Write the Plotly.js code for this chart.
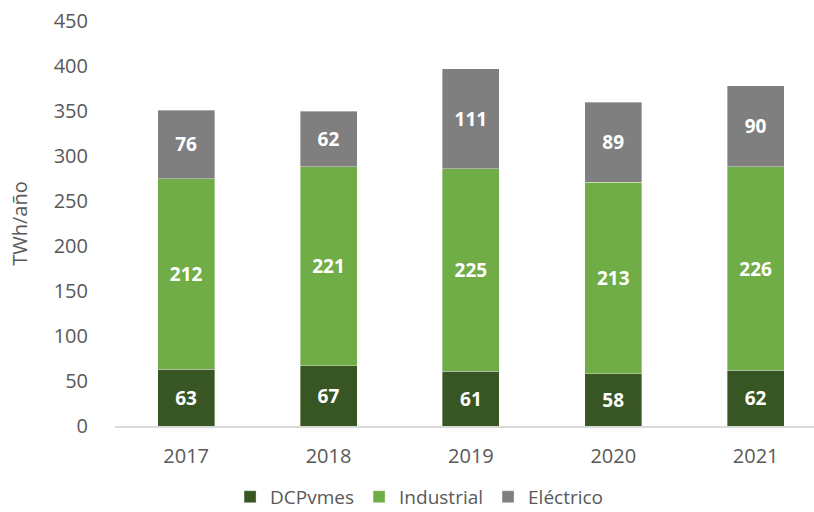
<!DOCTYPE html>
<html>
<head>
<meta charset="utf-8">
<script src="https://cdn.plot.ly/plotly-3.0.1.min.js"></script>
<style>html,body{margin:0;padding:0;background:#fff;}#chart{width:814px;height:512px;}</style>
</head>
<body>
<div id="chart"></div>
<script>
const years = ["2017", "2018", "2019", "2020", "2021"];
const dcpvmes = [63, 67, 61, 58, 62];
const industrial = [212, 221, 225, 213, 226];
const electrico = [76, 62, 111, 89, 90];
const seriesNames = ["DCPvmes", "Industrial", "Eléctrico"];
const colors = ["#375623", "#70AD47", "#7F7F7F"];
const yTicks = [0, 50, 100, 150, 200, 250, 300, 350, 400, 450];

const font = "'Open Sans', 'Noto Sans', sans-serif";
const series = [dcpvmes, industrial, electrico];
const data = series.map((vals, i) => ({
  type: "bar",
  name: seriesNames[i],
  x: years,
  y: vals,
  width: 0.4,
  marker: {color: colors[i], line: {color: "rgba(255,255,255,0.6)", width: 0.6}},
  text: vals.map(String),
  textposition: "inside",
  insidetextanchor: "middle",
  textangle: 0,
  textfont: {family: font, size: 19, color: "#FFFFFF", weight: "bold"},
  hoverinfo: "x+y+name"
}));

const layout = {
  width: 814,
  height: 512,
  barmode: "stack",
  paper_bgcolor: "#FFFFFF",
  plot_bgcolor: "#FFFFFF",
  margin: {l: 115, r: 0, t: 21, b: 86, autoexpand: false},
  font: {family: font, size: 20, color: "#595959"},
  xaxis: {
    type: "category",
    range: [-0.5, 4.41],
    showline: true,
    linecolor: "#D9D9D9",
    linewidth: 1.5,
    showgrid: false,
    zeroline: false,
    ticks: "",
    ticklabelstandoff: 11,
    automargin: false,
    tickfont: {family: font, size: 20, color: "#595959"}
  },
  yaxis: {
    range: [0, 450],
    tickvals: yTicks,
    ticktext: yTicks.map(String),
    showgrid: false,
    zeroline: false,
    showline: false,
    ticks: "",
    automargin: true,
    ticklabelstandoff: 26,
    tickfont: {family: font, size: 20, color: "#595959"},
    title: {text: "TWh/año", standoff: 20, font: {family: font, size: 20, color: "#595959"}}
  },
  showlegend: true,
  legend: {
    orientation: "h",
    x: 0.435,
    xanchor: "center",
    y: -0.175,
    yanchor: "middle",
    font: {family: font, size: 19, color: "#595959"},
    traceorder: "normal",
    itemwidth: 30
  }
};

Plotly.newPlot("chart", data, layout, {displayModeBar: false, staticPlot: true});
</script>
</body>
</html>
